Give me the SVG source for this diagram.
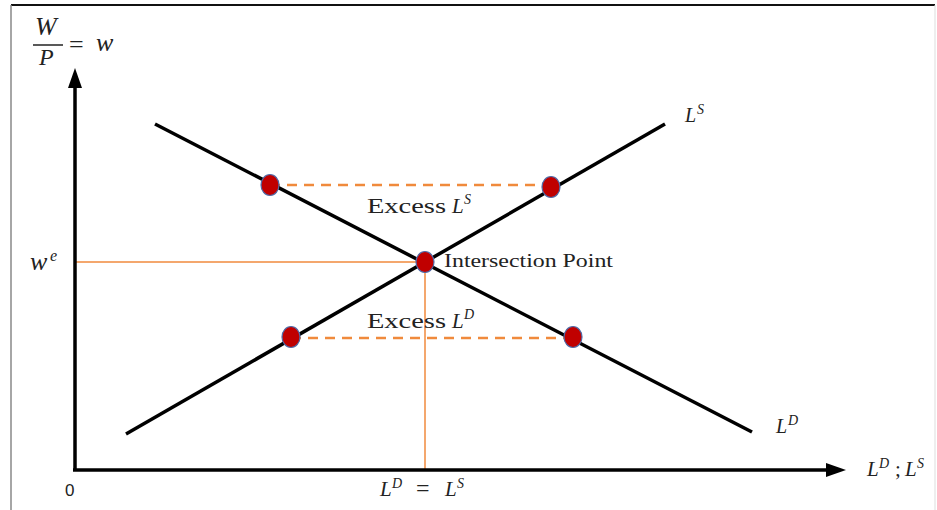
<svg xmlns="http://www.w3.org/2000/svg" width="937" height="510" viewBox="0 0 937 510">
<style>
.m{font-family:"Liberation Serif","DejaVu Serif",serif;font-style:italic;fill:#222}
.u{font-family:"Liberation Serif","DejaVu Serif",serif;fill:#222}
.t{font-family:"Liberation Serif","DejaVu Serif",serif;fill:#222}
.curve{stroke:#000;stroke-width:3.5;fill:none}
.ax{stroke:#000;stroke-width:3.5;fill:none}
.guide{stroke:#F08A3C;stroke-width:1.5;fill:none}
.dash{stroke:#F08A3C;stroke-width:2.5;stroke-dasharray:10,7;fill:none}
.dot{fill:#C00000;stroke:#4F6BA8;stroke-width:1.2}
</style>
<rect width="937" height="510" fill="#fff"/>
<line x1="11" y1="5" x2="935" y2="5" stroke="#111" stroke-width="2"/>
<line x1="11" y1="5" x2="11" y2="510" stroke="#888" stroke-width="1.5"/>
<line x1="935" y1="5" x2="935" y2="510" stroke="#ddd" stroke-width="1"/>
<g id="connectors">
<line class="guide" x1="75" y1="262" x2="425" y2="262"/>
<line class="guide" x1="425" y1="262" x2="425" y2="470"/>
<line class="dash" x1="270" y1="185" x2="551" y2="185"/>
<line class="dash" x1="291" y1="338" x2="573" y2="338"/>
</g>
<g id="axes">
<path class="ax" d="M75,470 V80"/>
<path d="M68,88 L75,68 L82,88 z" fill="#000"/>
<path class="ax" d="M73,470 H830"/>
<path d="M826,463 L846,470 L826,477 z" fill="#000"/>
</g>
<g id="demand">
<line class="curve" x1="155" y1="124" x2="752" y2="432"/>
<text class="m" x="776" y="433" font-size="20">L</text>
<text class="m" x="788" y="425" font-size="14">D</text>
</g>
<g id="supply">
<line class="curve" x1="126" y1="434" x2="665" y2="124"/>
<text class="m" x="685" y="122" font-size="20">L</text>
<text class="m" x="697" y="114" font-size="14">S</text>
</g>
<g id="points">
<ellipse class="dot" cx="270" cy="185" rx="9" ry="10.5"/>
<ellipse class="dot" cx="551" cy="187" rx="9" ry="10.5"/>
<ellipse class="dot" cx="425" cy="262" rx="9" ry="10.5"/>
<ellipse class="dot" cx="291" cy="337" rx="9" ry="10.5"/>
<ellipse class="dot" cx="573" cy="337" rx="9" ry="10.5"/>
</g>
<g id="labels">
<text class="t" x="367" y="213" font-size="21" textLength="79" lengthAdjust="spacingAndGlyphs">Excess</text>
<text class="m" x="452" y="213" font-size="21">L</text>
<text class="m" x="464" y="204" font-size="14">S</text>
<text class="t" x="367" y="328" font-size="21" textLength="79" lengthAdjust="spacingAndGlyphs">Excess</text>
<text class="m" x="452" y="328" font-size="21">L</text>
<text class="m" x="464" y="319" font-size="14">D</text>
<text class="t" x="444" y="267" font-size="19" textLength="169" lengthAdjust="spacingAndGlyphs">Intersection Point</text>
<text class="m" x="30" y="270" font-size="26">w</text>
<text class="m" x="50" y="261" font-size="16">e</text>
<text class="t" x="65" y="496" font-size="17" style="font-family:'Liberation Sans',sans-serif">0</text>
<text class="m" x="380" y="496" font-size="21">L</text>
<text class="m" x="392" y="488" font-size="14">D</text>
<text class="u" x="416" y="496" font-size="24">=</text>
<text class="m" x="445" y="496" font-size="21">L</text>
<text class="m" x="457" y="488" font-size="14">S</text>
<text class="m" x="867" y="476" font-size="21">L</text>
<text class="m" x="879" y="468" font-size="14">D</text>
<text class="u" x="895" y="476" font-size="21">;</text>
<text class="m" x="905" y="476" font-size="21">L</text>
<text class="m" x="917" y="468" font-size="14">S</text>
<text class="m" x="35" y="35" font-size="26">W</text>
<line x1="33" y1="45" x2="63" y2="45" stroke="#222" stroke-width="1.5"/>
<text class="m" x="39" y="65" font-size="24">P</text>
<text class="u" x="69" y="53" font-size="26">=</text>
<text class="m" x="96" y="51" font-size="26">w</text>
</g>
</svg>
